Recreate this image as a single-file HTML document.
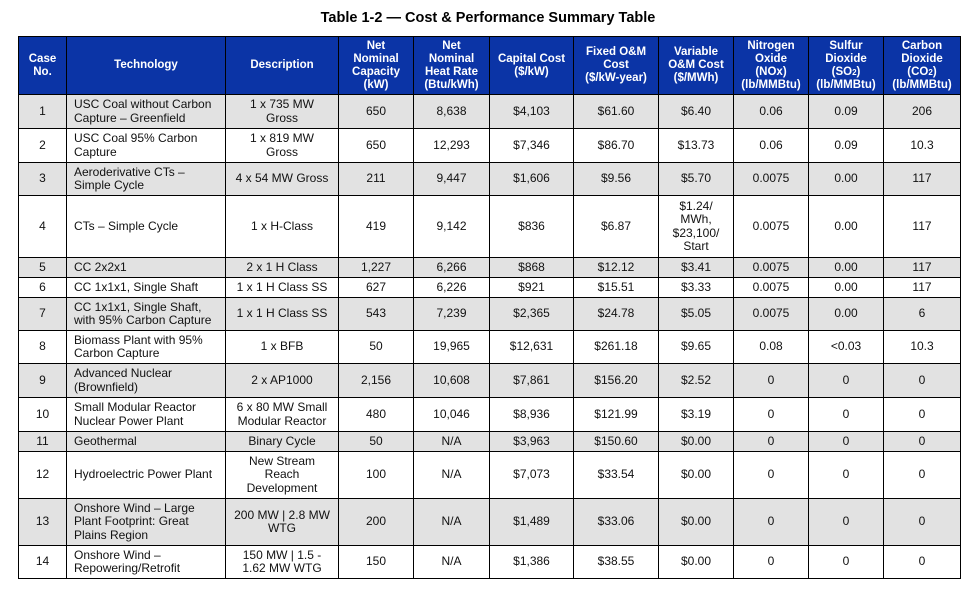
<!DOCTYPE html>
<html><head><meta charset="utf-8"><style>
body{margin:0;width:980px;height:591px;background:#fff;font-family:"Liberation Sans",Arial,sans-serif;overflow:hidden}
h1{position:absolute;left:0;top:10px;width:976px;margin:0;text-align:center;font-size:14.5px;font-weight:bold;color:#000}
table{position:absolute;left:18px;top:36px;width:942px;border-collapse:collapse;table-layout:fixed;font-size:12px;color:#111}
td,th{border:1px solid #000;padding:0 2px;text-align:center;vertical-align:middle;line-height:13.5px;overflow:hidden;white-space:nowrap}
th{background:#0b34a6;color:#fff;font-weight:bold;font-size:11.5px;line-height:13px}
tr.g td{background:#e2e2e2}
td.l{text-align:left;padding-left:7px}
</style></head><body>
<h1>Table 1-2 — Cost &amp; Performance Summary Table</h1>
<table>
<colgroup><col style="width:48px"><col style="width:159px"><col style="width:113px"><col style="width:75px"><col style="width:76px"><col style="width:84px"><col style="width:85px"><col style="width:75px"><col style="width:75px"><col style="width:75px"><col style="width:77px"></colgroup>
<tr style="height:58px"><th>Case<br>No.</th><th>Technology</th><th>Description</th><th>Net<br>Nominal<br>Capacity<br>(kW)</th><th>Net<br>Nominal<br>Heat Rate<br>(Btu/kWh)</th><th>Capital Cost<br>($/kW)</th><th>Fixed O&amp;M<br>Cost<br>($/kW-year)</th><th>Variable<br>O&amp;M Cost<br>($/MWh)</th><th>Nitrogen<br>Oxide<br>(NOx)<br>(lb/MMBtu)</th><th>Sulfur<br>Dioxide<br>(SO<span style="font-size:8px">2</span>)<br>(lb/MMBtu)</th><th>Carbon<br>Dioxide<br>(CO<span style="font-size:8px">2</span>)<br>(lb/MMBtu)</th></tr>
<tr class="g" style="height:34px"><td>1</td><td class="l">USC Coal without Carbon<br>Capture – Greenfield</td><td>1 x 735 MW<br>Gross</td><td>650</td><td>8,638</td><td>$4,103</td><td>$61.60</td><td>$6.40</td><td>0.06</td><td>0.09</td><td>206</td></tr>
<tr style="height:34px"><td>2</td><td class="l">USC Coal 95% Carbon<br>Capture</td><td>1 x 819 MW<br>Gross</td><td>650</td><td>12,293</td><td>$7,346</td><td>$86.70</td><td>$13.73</td><td>0.06</td><td>0.09</td><td>10.3</td></tr>
<tr class="g" style="height:33px"><td>3</td><td class="l">Aeroderivative CTs –<br>Simple Cycle</td><td>4 x 54 MW Gross</td><td>211</td><td>9,447</td><td>$1,606</td><td>$9.56</td><td>$5.70</td><td>0.0075</td><td>0.00</td><td>117</td></tr>
<tr style="height:62px"><td>4</td><td class="l">CTs – Simple Cycle</td><td>1 x H-Class</td><td>419</td><td>9,142</td><td>$836</td><td>$6.87</td><td>$1.24/<br>MWh,<br>$23,100/<br>Start</td><td>0.0075</td><td>0.00</td><td>117</td></tr>
<tr class="g" style="height:20px"><td>5</td><td class="l">CC 2x2x1</td><td>2 x 1 H Class</td><td>1,227</td><td>6,266</td><td>$868</td><td>$12.12</td><td>$3.41</td><td>0.0075</td><td>0.00</td><td>117</td></tr>
<tr style="height:20px"><td>6</td><td class="l">CC 1x1x1, Single Shaft</td><td>1 x 1 H Class SS</td><td>627</td><td>6,226</td><td>$921</td><td>$15.51</td><td>$3.33</td><td>0.0075</td><td>0.00</td><td>117</td></tr>
<tr class="g" style="height:33px"><td>7</td><td class="l">CC 1x1x1, Single Shaft,<br>with 95% Carbon Capture</td><td>1 x 1 H Class SS</td><td>543</td><td>7,239</td><td>$2,365</td><td>$24.78</td><td>$5.05</td><td>0.0075</td><td>0.00</td><td>6</td></tr>
<tr style="height:33px"><td>8</td><td class="l">Biomass Plant with 95%<br>Carbon Capture</td><td>1 x BFB</td><td>50</td><td>19,965</td><td>$12,631</td><td>$261.18</td><td>$9.65</td><td>0.08</td><td>&lt;0.03</td><td>10.3</td></tr>
<tr class="g" style="height:34px"><td>9</td><td class="l">Advanced Nuclear<br>(Brownfield)</td><td>2 x AP1000</td><td>2,156</td><td>10,608</td><td>$7,861</td><td>$156.20</td><td>$2.52</td><td>0</td><td>0</td><td>0</td></tr>
<tr style="height:34px"><td>10</td><td class="l">Small Modular Reactor<br>Nuclear Power Plant</td><td>6 x 80 MW Small<br>Modular Reactor</td><td>480</td><td>10,046</td><td>$8,936</td><td>$121.99</td><td>$3.19</td><td>0</td><td>0</td><td>0</td></tr>
<tr class="g" style="height:20px"><td>11</td><td class="l">Geothermal</td><td>Binary Cycle</td><td>50</td><td>N/A</td><td>$3,963</td><td>$150.60</td><td>$0.00</td><td>0</td><td>0</td><td>0</td></tr>
<tr style="height:47px"><td>12</td><td class="l">Hydroelectric Power Plant</td><td>New Stream<br>Reach<br>Development</td><td>100</td><td>N/A</td><td>$7,073</td><td>$33.54</td><td>$0.00</td><td>0</td><td>0</td><td>0</td></tr>
<tr class="g" style="height:47px"><td>13</td><td class="l">Onshore Wind – Large<br>Plant Footprint: Great<br>Plains Region</td><td>200 MW | 2.8 MW<br>WTG</td><td>200</td><td>N/A</td><td>$1,489</td><td>$33.06</td><td>$0.00</td><td>0</td><td>0</td><td>0</td></tr>
<tr style="height:33px"><td>14</td><td class="l">Onshore Wind –<br>Repowering/Retrofit</td><td>150 MW | 1.5 -<br>1.62 MW WTG</td><td>150</td><td>N/A</td><td>$1,386</td><td>$38.55</td><td>$0.00</td><td>0</td><td>0</td><td>0</td></tr>
</table>
</body></html>
